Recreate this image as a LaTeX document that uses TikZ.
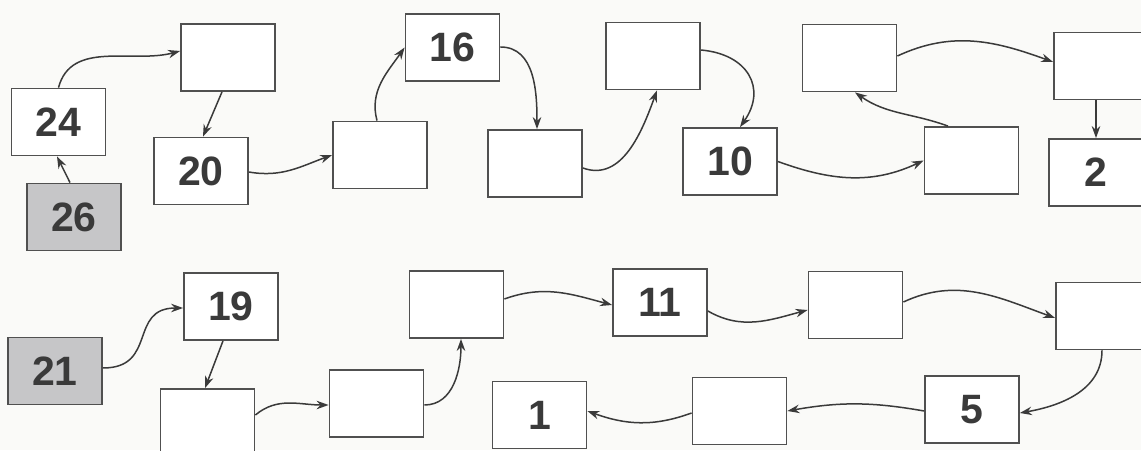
\documentclass[tikz,border=0pt]{standalone}
\usepackage{fontspec}
\setmainfont{Liberation Sans}
\usetikzlibrary{arrows.meta}
\definecolor{bg}{HTML}{FAFAF8}
\definecolor{edge}{HTML}{505050}
\definecolor{ink}{HTML}{3A3A3A}
\definecolor{shade}{HTML}{C6C6C8}
\tikzset{
  cell/.style={draw=edge, line width=1.8pt, fill=white, minimum width=94pt, minimum height=67pt, inner sep=0pt,
    font=\fontsize{41}{41}\selectfont\bfseries, text=ink},
  start/.style={cell, fill=shade},
  link/.style={draw=ink, line width=1.5pt, -{Stealth[length=12pt,width=8.5pt]}}
}
\begin{document}
\begin{tikzpicture}[x=1pt,y=1pt]
\useasboundingbox (0,0) rectangle (1141,450);
\fill[bg] (0,0) rectangle (1141,450);
\clip (0,0) rectangle (1141,450);
% top row
\node[cell]  (n24) at (58.5,328) {24};
\node[start] (n26) at (74,233) {26};
\node[cell]  (nA)  at (228,392.5) {};
\node[cell]  (n20) at (201,279) {20};
\node[cell]  (nB)  at (380,295) {};
\node[cell]  (n16) at (452.5,402.5) {16};
\node[cell]  (nC)  at (535,286.5) {};
\node[cell]  (nD)  at (653,394) {};
\node[cell]  (n10) at (730,288.5) {10};
\node[cell]  (nE)  at (849.5,392) {};
\node[cell]  (nF)  at (971.5,289.5) {};
\node[cell]  (nG)  at (1101,384) {};
\node[cell]  (n2)  at (1096,277.5) {2};
% bottom row
\node[start] (n21) at (55,79) {21};
\node[cell]  (n19) at (231,143.5) {19};
\node[cell]  (nH)  at (207.5,27.5) {};
\node[cell]  (nI)  at (376.5,46.5) {};
\node[cell]  (nJ)  at (456.5,145.5) {};
\node[cell]  (n11) at (660,147.5) {11};
\node[cell]  (nK)  at (855.5,145) {};
\node[cell]  (nL)  at (1103,134) {};
\node[cell]  (n5)  at (972,40.5) {5};
\node[cell]  (nM)  at (739.5,39) {};
\node[cell]  (n1)  at (539.5,35) {1};
% connectors, top row
\draw[link] ([xshift=-4pt]n26.north) -- ([xshift=-1.5pt]n24.south);
\draw[link] (n24.north) to[out=75,in=195] ([yshift=6.5pt]nA.west);
\draw[link] ([xshift=-6pt]nA.south) -- ([xshift=2pt]n20.north);
\draw[link] ([yshift=-1pt]n20.east) to[out=-10,in=200] (nB.west);
\draw[link] ([xshift=-3pt]nB.north) to[out=105,in=235] (n16.west);
\draw[link] ([yshift=0.5pt]n16.east) to[out=0,in=90] ([xshift=2pt]nC.north);
\draw[link] ([yshift=-4.5pt]nC.east) to[out=-20,in=250] ([xshift=4pt]nD.south);
\draw[link] ([yshift=6pt]nD.east) to[out=-5,in=55,looseness=1.4] ([xshift=10pt]n10.north);
\draw[link] (n10.east) to[out=-20,in=205] (nF.west);
\draw[link] ([xshift=-23.5pt]nF.north) to[out=160,in=-35] ([xshift=5.5pt]nE.south);
\draw[link] ([yshift=2pt]nE.east) to[out=25,in=160] ([yshift=4pt]nG.west);
\draw[link] ([xshift=-5pt]nG.south) -- ([xshift=0pt]n2.north);
% connectors, bottom row
\draw[link] ([yshift=3pt]n21.east) to[out=0,in=180,looseness=1.4] ([yshift=-1.5pt]n19.west);
\draw[link] ([xshift=-8pt]n19.south) -- ([xshift=-2.5pt]nH.north);
\draw[link] ([yshift=7.5pt]nH.east) to[out=40,in=180] ([yshift=-1.5pt]nI.west);
\draw[link] ([yshift=-1.5pt]nI.east) to[out=0,in=-90] ([xshift=4.5pt]nJ.south);
\draw[link] ([yshift=5.5pt]nJ.east) to[out=20,in=165] ([yshift=-2.5pt]n11.west);
\draw[link] ([yshift=-8.5pt]n11.east) to[out=-30,in=195] ([yshift=-5pt]nK.west);
\draw[link] ([yshift=3pt]nK.east) to[out=25,in=160] ([yshift=-2pt]nL.west);
\draw[link] ([xshift=-1pt]nL.south) to[out=-90,in=10] ([yshift=-3.5pt]n5.east);
\draw[link] ([yshift=-1.5pt]n5.west) to[out=170,in=10] (nM.east);
\draw[link] ([yshift=-2pt]nM.west) to[out=200,in=-20] ([yshift=4pt]n1.east);
\end{tikzpicture}
\end{document}
